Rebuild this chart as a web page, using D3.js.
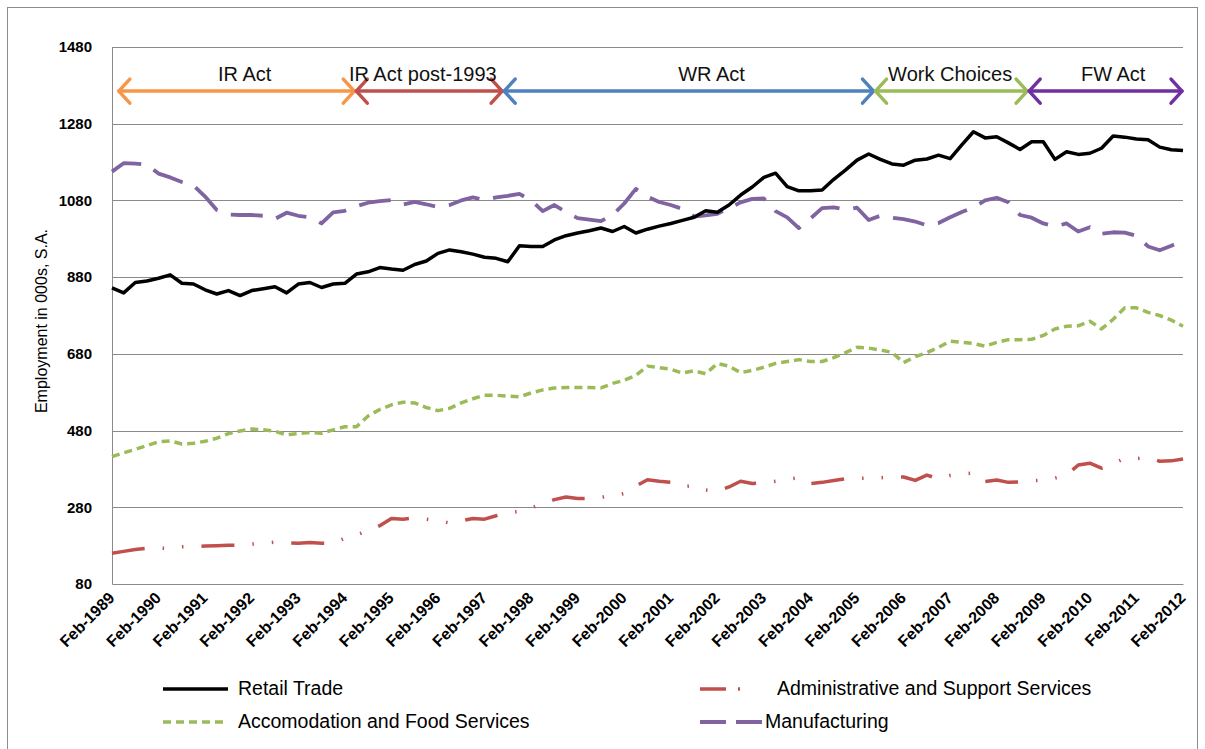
<!DOCTYPE html>
<html><head><meta charset="utf-8">
<script src="https://cdn.jsdelivr.net/npm/d3@7"></script>
<style>
body{margin:0;background:#fff;}
svg{display:block;font-family:"Liberation Sans",Arial,sans-serif;}
</style>
</head><body>
<svg id="chart" width="1205" height="749"></svg>
<script>
// ---------- DATA ----------
const years = [1989,1990,1991,1992,1993,1994,1995,1996,1997,1998,1999,2000,2001,2002,2003,2004,2005,2006,2007,2008,2009,2010,2011,2012];
const quarterMonths = ["Feb","May","Aug","Nov"];
const categories = [];
years.forEach(y => quarterMonths.forEach(m => { if (!(y === 2012 && m !== "Feb")) categories.push(m + "-" + y); }));
const tickLabels = years.map(y => "Feb-" + y);
const yTicks = [80,280,480,680,880,1080,1280,1480];

const retailTrade = [852,839,866,870,877,886,864,862,847,836,845,832,845,850,855,839,862,866,853,862,
  864,888,894,905,901,898,913,922,942,951,946,940,932,929,920,962,960,960,977,988,
  995,1001,1008,999,1012,995,1005,1013,1020,1028,1036,1053,1049,1068,1094,1115,1140,1151,1116,1105,
  1105,1107,1135,1159,1185,1201,1187,1175,1172,1185,1188,1198,1189,1225,1259,1243,1246,1230,1213,1233,
  1233,1187,1207,1200,1203,1216,1248,1245,1240,1238,1219,1212,1210];
const adminSupport = [160,165,170,173,174,172,177,178,179,180,181,181,184,187,189,187,186,188,186,187,
  199,208,219,232,251,249,252,249,245,239,245,251,249,258,266,269,278,290,300,307,
  303,303,306,310,316,335,352,348,345,333,337,325,322,333,348,342,344,348,353,357,
  342,345,350,354,355,356,357,359,359,350,364,354,363,367,369,347,351,345,346,349,
  351,356,365,390,395,382,393,408,407,410,400,401,406];
const accommodationFood = [412,422,431,441,451,453,445,447,452,460,472,479,484,482,478,469,472,475,473,482,
  490,490,518,535,547,554,552,540,532,538,552,563,572,572,570,568,578,586,591,592,
  592,592,591,603,611,624,648,644,640,630,636,628,655,648,631,637,645,655,660,665,
  660,660,670,683,697,695,690,684,657,673,683,697,713,710,707,700,710,717,717,718,
  728,745,752,753,765,745,770,800,800,788,780,768,752];
const manufacturing = [1155,1177,1176,1173,1150,1140,1128,1119,1090,1055,1043,1042,1042,1040,1032,1048,1040,1036,1020,1049,
  1053,1065,1074,1078,1081,1069,1076,1070,1063,1068,1080,1088,1081,1088,1092,1097,1080,1052,1068,1050,
  1034,1030,1026,1042,1072,1110,1090,1076,1068,1058,1038,1041,1045,1060,1075,1084,1085,1052,1036,1008,
  1033,1060,1062,1056,1061,1029,1040,1035,1031,1025,1015,1021,1036,1050,1062,1080,1087,1075,1042,1035,
  1020,1012,1020,999,1010,993,997,996,988,960,950,962,975];

const seriesNames = ["Retail Trade","Administrative and Support Services","Accomodation and Food Services","Manufacturing"];

// policy periods (start / end / label position as quarter index positions along the category axis)
const periodLabels = ["IR Act","IR Act post-1993","WR Act","Work Choices","FW Act"];
const periodStart = [0.5, 20.9, 33.6, 65.5, 78.7];
const periodEnd = [20.9, 33.6, 65.5, 78.7, 92];
const periodLabelAt = [11.4, 26.7, 51.5, 72, 86];
const periodLevel = 1365;

// ---------- STYLE ----------
const styles = [
  {color:"#000000", width:3.5, dash:null},
  {color:"#C0504D", width:3.5, dash:"33,18,1.5,18,1.5,18"},
  {color:"#9BBB59", width:3.5, dash:"8,5"},
  {color:"#8064A2", width:3.8, dash:"32,14"}
];
const periodColors = ["#F79646","#C0504D","#4F81BD","#9BBB59","#7030A0"];

const svg = d3.select("#chart");
const W = 1205, H = 749;
const m = {left:112, right:1183, top:47, bottom:584};

svg.append("rect").attr("x",0).attr("y",0).attr("width",W).attr("height",H).attr("fill","#fff");
svg.append("rect").attr("x",7.5).attr("y",7.5).attr("width",1190).attr("height",745)
  .attr("fill","none").attr("stroke","#8c8c8c").attr("stroke-width",1);

const x = d3.scaleLinear().domain([0, categories.length-1]).range([m.left, m.right]);
const y = d3.scaleLinear().domain([80,1480]).range([m.bottom, m.top]);

// gridlines
svg.append("g").selectAll("line").data(yTicks.slice(1)).join("line")
  .attr("x1", m.left).attr("x2", m.right)
  .attr("y1", d=>Math.round(y(d))+0.5).attr("y2", d=>Math.round(y(d))+0.5)
  .attr("stroke","#8a8a8a").attr("stroke-width",1);

// y axis
const yAxis = svg.append("g").attr("transform",`translate(${m.left},0)`)
  .call(d3.axisLeft(y).tickValues(yTicks).tickSize(0).tickPadding(20).tickFormat(d3.format("d")));
yAxis.select(".domain").attr("stroke","#8a8a8a");
yAxis.selectAll("text").attr("font-size",15).attr("font-weight","bold").attr("fill","#000");

// x axis
const tickIdx = tickLabels.map(l => categories.indexOf(l));
const xAxis = svg.append("g").attr("transform",`translate(0,${m.bottom})`)
  .call(d3.axisBottom(x).tickValues(tickIdx).tickSize(0).tickFormat(i => categories[i]));
xAxis.select(".domain").attr("stroke","#8a8a8a");
xAxis.selectAll("text")
  .attr("font-size",16).attr("font-weight","bold").attr("fill","#000")
  .attr("text-anchor","end").attr("dy",0)
  .attr("transform", `translate(3,15) rotate(-45)`)
  .attr("y",0).attr("x",0);

// y-axis title
svg.append("text").attr("transform",`translate(47,321) rotate(-90)`)
  .attr("text-anchor","middle").attr("font-size",16).text("Employment in 000s, S.A.");

// series
const allSeries = [retailTrade, adminSupport, accommodationFood, manufacturing];
const line = d3.line().x((d,i)=>x(i)).y(d=>y(d));
const drawOrder = [2,1,3,0];
drawOrder.forEach(k => {
  svg.append("path").datum(allSeries[k])
    .attr("d", line).attr("fill","none")
    .attr("stroke", styles[k].color).attr("stroke-width", styles[k].width)
    .attr("stroke-linejoin","round")
    .attr("stroke-dasharray", styles[k].dash);
});

// period arrows
const ay = y(periodLevel);
const head = 12;
periodLabels.forEach((lab, i) => {
  const x1 = x(periodStart[i]), x2 = x(periodEnd[i]);
  const g = svg.append("g").attr("stroke", periodColors[i]).attr("stroke-width",3.5)
    .attr("fill","none").attr("stroke-linecap","round").attr("stroke-linejoin","round");
  g.append("line").attr("x1",x1+1).attr("x2",x2-1).attr("y1",ay).attr("y2",ay);
  g.append("path").attr("d",`M${x1+head},${ay-head}L${x1+1},${ay}L${x1+head},${ay+head}`);
  g.append("path").attr("d",`M${x2-head},${ay-head}L${x2-1},${ay}L${x2-head},${ay+head}`);
  svg.append("text").attr("x",x(periodLabelAt[i])).attr("y",ay-10)
    .attr("text-anchor","middle").attr("font-size",20).attr("fill","#111").text(lab);
});

// legend
const legendPos = [[163,689],[700,689],[163,722],[700,722]];
const legendTextX = [238, 777, 238, 765];
[0,1,2,3].forEach(k => {
  const [lx, ly] = legendPos[k];
  const sw = 65;
  let dash = styles[k].dash;
  if (k===1) dash = "26,12,2,30";
  if (k===3) dash = "26,10";
  svg.append("line").attr("x1",lx).attr("x2",lx+sw).attr("y1",ly).attr("y2",ly)
    .attr("stroke",styles[k].color).attr("stroke-width",styles[k].width)
    .attr("stroke-dasharray",dash);
  svg.append("text").attr("x",legendTextX[k]).attr("y",ly+6)
    .attr("font-size",19.5).attr("fill","#000").text(seriesNames[k]);
});
</script>
</body></html>
